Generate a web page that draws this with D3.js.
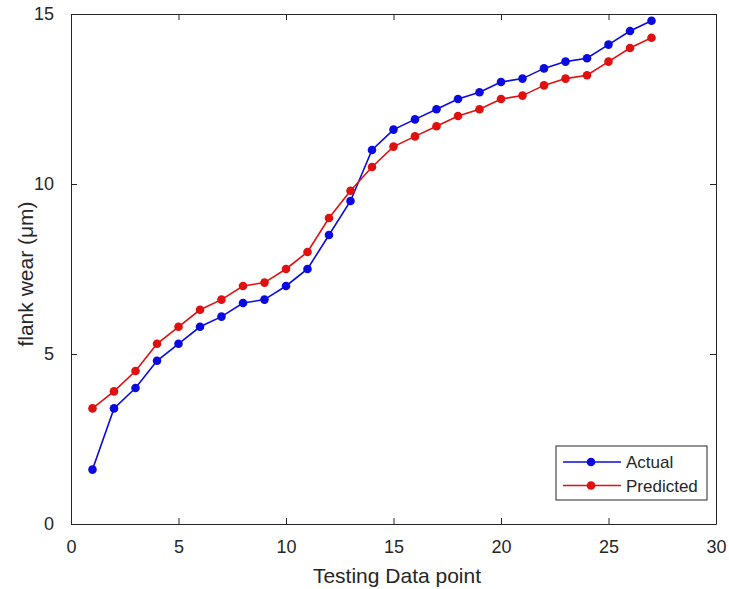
<!DOCTYPE html>
<html>
<head>
<meta charset="utf-8">
<script src="https://cdn.jsdelivr.net/npm/d3@7"></script>
<style>
    body { margin: 0; background: #fff; }
    text { font-family: "Liberation Sans", Arial, sans-serif; fill: #262626; }
</style>
</head>
<body>
<script>
const points = d3.range(1, 28);
const actual = [1.6, 3.4, 4.0, 4.8, 5.3, 5.8, 6.1, 6.5, 6.6, 7.0, 7.5, 8.5, 9.5, 11.0, 11.6,
    11.9, 12.2, 12.5, 12.7, 13.0, 13.1, 13.4, 13.6, 13.7, 14.1, 14.5, 14.8];
const predicted = [3.4, 3.9, 4.5, 5.3, 5.8, 6.3, 6.6, 7.0, 7.1, 7.5, 8.0, 9.0, 9.8, 10.5, 11.1,
    11.4, 11.7, 12.0, 12.2, 12.5, 12.6, 12.9, 13.1, 13.2, 13.6, 14.0, 14.3];
const xTicks = [0, 5, 10, 15, 20, 25, 30];
const yTicks = [0, 5, 10, 15];
const seriesNames = ['Actual', 'Predicted'];
const seriesColors = ['#0a0ae0', '#e01010'];

function draw() {
    const width = 729, height = 589;
    const left = 71, right = 716, top = 14, bottom = 524;

    const svg = d3.select('body')
        .append('svg')
        .attr('width', width)
        .attr('height', height);

    const xScale = d3.scaleLinear().domain([0, 30]).range([left, right]);
    const yScale = d3.scaleLinear().domain([0, 15]).range([bottom, top]);

    // inward ticks on all four sides, like a boxed matlab axes
    const xAxis = d3.axisBottom(xScale).tickValues(xTicks).tickSizeInner(-6).tickSizeOuter(0).tickPadding(16);
    const yAxis = d3.axisLeft(yScale).tickValues(yTicks).tickSizeInner(-6).tickSizeOuter(0).tickPadding(17);
    const xTop = d3.axisTop(xScale).tickValues(xTicks).tickSizeInner(-6).tickSizeOuter(0).tickFormat('');
    const yRight = d3.axisRight(yScale).tickValues(yTicks).tickSizeInner(-6).tickSizeOuter(0).tickFormat('');

    const axes = [
        [xAxis, 'translate(0,' + bottom + ')'],
        [yAxis, 'translate(' + left + ',0)'],
        [xTop, 'translate(0,' + top + ')'],
        [yRight, 'translate(' + right + ',0)']
    ];
    axes.forEach(function(a) {
        const g = svg.append('g').attr('transform', a[1]).call(a[0]);
        g.select('.domain').attr('stroke', '#262626').attr('stroke-width', 1);
        g.selectAll('.tick line').attr('stroke', '#262626');
        g.selectAll('.tick text').style('font-size', '18px').attr('fill', '#262626');
    });

    svg.append('text')
        .attr('x', 397)
        .attr('y', 583)
        .attr('text-anchor', 'middle')
        .style('font-size', '21px')
        .text('Testing Data point');

    svg.append('text')
        .attr('transform', 'translate(33,274) rotate(-90)')
        .attr('text-anchor', 'middle')
        .style('font-size', '21px')
        .text('flank wear (μm)');

    const line = d3.line()
        .x(function(d) { return xScale(d[0]); })
        .y(function(d) { return yScale(d[1]); });

    [actual, predicted].forEach(function(values, i) {
        const data = points.map(function(p, j) { return [p, values[j]]; });
        svg.append('path')
            .datum(data)
            .attr('d', line)
            .attr('fill', 'none')
            .attr('stroke', seriesColors[i])
            .attr('stroke-width', 1.6);
        svg.selectAll('circle.s' + i)
            .data(data)
            .enter()
            .append('circle')
            .attr('class', 's' + i)
            .attr('cx', function(d) { return xScale(d[0]); })
            .attr('cy', function(d) { return yScale(d[1]); })
            .attr('r', 4.3)
            .attr('fill', seriesColors[i]);
    });

    // legend
    const legend = svg.append('g').attr('transform', 'translate(556,446)');
    legend.append('rect')
        .attr('width', 151)
        .attr('height', 54)
        .attr('fill', '#fff')
        .attr('stroke', '#262626');
    seriesNames.forEach(function(name, i) {
        const y = 16 + i * 23.5;
        legend.append('line')
            .attr('x1', 7).attr('x2', 65)
            .attr('y1', y).attr('y2', y)
            .attr('stroke', seriesColors[i])
            .attr('stroke-width', 1.6);
        legend.append('circle')
            .attr('cx', 35).attr('cy', y).attr('r', 4.3)
            .attr('fill', seriesColors[i]);
        legend.append('text')
            .attr('x', 70).attr('y', y + 6)
            .style('font-size', '17px')
            .text(name);
    });
}

draw();
</script>
</body>
</html>
